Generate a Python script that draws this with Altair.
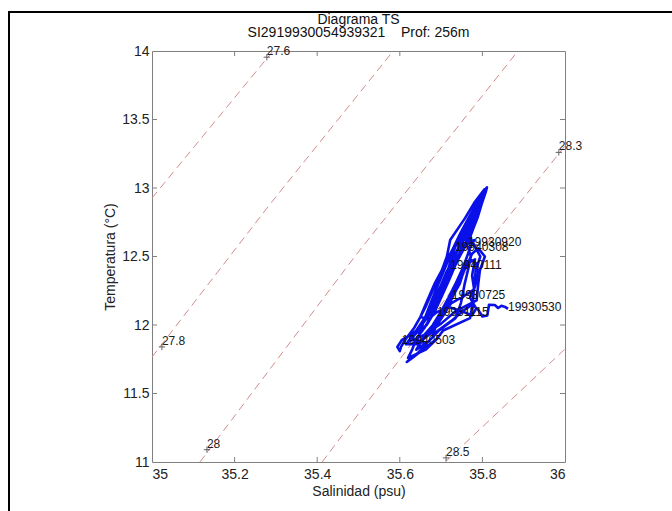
import altair as alt
import pandas as pd

# ---- isopycnal (sigma) lines: points ----
iso_level = ["27.6", "27.6",
             "27.8", "27.8", "27.8",
             "28", "28", "28",
             "28.3", "28.3", "28.3",
             "28.5", "28.5"]
iso_S = [35.000, 35.293,
         35.000, 35.286, 35.584,
         35.116, 35.492, 35.886,
         35.412, 35.818, 36.000,
         35.710, 36.000]
iso_T = [12.927, 14.000,
         11.766, 12.883, 14.000,
         11.000, 12.504, 14.000,
         11.000, 12.620, 13.307,
         11.000, 11.825]

# contour labels ("+" marker and value)
lab_text = ["27.6", "27.8", "28", "28.3", "28.5"]
lab_S = [35.278, 35.024, 35.133, 35.985, 35.712]
lab_T = [13.955, 11.840, 11.090, 13.260, 11.030]

# ---- TS trace (salinity, temperature) ----
ts_S = [35.862, 35.855, 35.846, 35.838, 35.830, 35.816, 35.812, 35.800, 35.790, 35.776,
        35.752, 35.725, 35.700, 35.680,
        35.695, 35.710, 35.726, 35.742, 35.760, 35.775, 35.790, 35.806, 35.794, 35.790, 35.786,
        35.760, 35.735, 35.700, 35.675, 35.655, 35.640,
        35.650, 35.662, 35.676, 35.692, 35.710, 35.726, 35.745, 35.768, 35.790, 35.806, 35.811,
        35.808, 35.798, 35.788, 35.776, 35.765, 35.752, 35.738,
        35.752, 35.772, 35.792, 35.805, 35.798, 35.780, 35.760, 35.740, 35.722,
        35.705, 35.690, 35.675, 35.662, 35.650, 35.668, 35.690,
        35.720, 35.750, 35.775, 35.785, 35.770, 35.782, 35.790, 35.785, 35.770,
        35.750, 35.735, 35.718, 35.700, 35.680, 35.660, 35.640, 35.620,
        35.640, 35.660, 35.680, 35.698, 35.712, 35.722, 35.740, 35.758, 35.772, 35.760,
        35.745, 35.728, 35.710, 35.692, 35.680,
        35.695, 35.710, 35.722, 35.734, 35.748, 35.762, 35.750, 35.732, 35.715,
        35.700, 35.685, 35.668, 35.648, 35.628, 35.605, 35.594, 35.600,
        35.603, 35.615, 35.635, 35.650, 35.664, 35.684, 35.702, 35.714, 35.722, 35.758, 35.782, 35.805,
        35.800, 35.790, 35.770, 35.795, 35.784, 35.780, 35.777, 35.770, 35.705, 35.690, 35.663, 35.620,
        35.630, 35.640, 35.660, 35.675, 35.690, 35.708, 35.725, 35.735, 35.745, 35.765, 35.790,
        35.775, 35.760, 35.772, 35.765, 35.757, 35.748, 35.735, 35.695, 35.670, 35.640,
        35.660, 35.690, 35.712, 35.728, 35.745, 35.758, 35.770, 35.780,
        35.750, 35.735, 35.718, 35.700, 35.685, 35.665, 35.640, 35.615,
        35.648, 35.668, 35.700, 35.725, 35.760, 35.780, 35.775, 35.782,
        35.760, 35.745, 35.730, 35.712, 35.690, 35.675, 35.650,
        35.625, 35.650, 35.665, 35.645, 35.625, 35.617, 35.635, 35.660, 35.690]
ts_T = [12.118, 12.132, 12.140, 12.124, 12.146, 12.148, 12.070, 12.062, 12.110, 12.150,
        12.100, 12.030, 11.975, 11.930,
        12.050, 12.150, 12.219, 12.320, 12.420, 12.520, 12.560, 12.500, 12.400, 12.300, 12.180,
        12.140, 12.100, 12.010, 11.960, 11.900, 11.860,
        11.960, 12.060, 12.170, 12.290, 12.420, 12.540, 12.660, 12.790, 12.910, 12.985, 13.005,
        12.970, 12.880, 12.780, 12.690, 12.606, 12.540, 12.460,
        12.600, 12.740, 12.880, 12.960, 12.950, 12.840, 12.720, 12.620, 12.520,
        12.420, 12.320, 12.220, 12.130, 12.060, 12.040, 12.095,
        12.130, 12.100, 12.070, 12.120, 12.200, 12.280, 12.380, 12.450, 12.480,
        12.400, 12.300, 12.200, 12.100, 12.000, 11.930, 11.900, 11.880,
        11.960, 12.050, 12.160, 12.280, 12.380, 12.438, 12.500, 12.570, 12.640, 12.600,
        12.520, 12.420, 12.300, 12.200, 12.100,
        12.200, 12.330, 12.460, 12.569, 12.650, 12.700, 12.620, 12.500, 12.380,
        12.270, 12.160, 12.060, 11.980, 11.930, 11.891, 11.840, 11.810,
        11.840, 11.900, 11.980, 12.060, 12.160, 12.300, 12.400, 12.500, 12.620, 12.780, 12.900, 12.990,
        12.920, 12.800, 12.640, 12.500, 12.400, 12.300, 12.160, 12.050, 11.960, 11.900, 11.820, 11.760,
        11.820, 11.900, 11.980, 12.060, 12.160, 12.300, 12.400, 12.500, 12.600, 12.720, 12.850,
        12.720, 12.620, 12.500, 12.400, 12.300, 12.160, 12.050, 11.960, 11.880, 11.820,
        11.920, 12.020, 12.140, 12.260, 12.360, 12.460, 12.560, 12.620,
        12.560, 12.440, 12.320, 12.200, 12.100, 12.000, 11.940, 11.860,
        11.860, 11.940, 12.060, 12.160, 12.220, 12.260, 12.360, 12.480,
        12.440, 12.300, 12.220, 12.100, 12.000, 11.940, 11.880,
        11.860, 11.880, 11.860, 11.800, 11.750, 11.730, 11.770, 11.830, 11.900]

# date labels
date_text = ["19930530", "19930725", "19930920", "19931115", "19940111", "19940308", "19940503"]
date_S = [35.862, 35.726, 35.765, 35.690, 35.722, 35.734, 35.605]
date_T = [12.131, 12.219, 12.606, 12.095, 12.438, 12.569, 11.891]

# titles
title_1 = "Diagrama TS"
title_2 = "SI2919930054939321\u00a0\u00a0\u00a0\u00a0Prof: 256m"

# axis ticks
x_ticks = [35, 35.2, 35.4, 35.6, 35.8, 36]
y_ticks = [11, 11.5, 12, 12.5, 13, 13.5, 14]
x_inner = x_ticks[1:-1]
y_inner = y_ticks[1:-1]

W, H = 413, 411
FONT = "Liberation Sans"
GRAY = "#808080"

iso_df = pd.DataFrame({"level": iso_level, "S": iso_S, "T": iso_T,
                       "order": list(range(len(iso_S)))})
lab_df = pd.DataFrame({"label": lab_text, "S": lab_S, "T": lab_T})
ts_df = pd.DataFrame({"S": ts_S, "T": ts_T, "order": list(range(len(ts_S)))})
date_df = pd.DataFrame({"label": date_text, "S": date_S, "T": date_T})
xt_df = pd.DataFrame({"v": x_inner})
yt_df = pd.DataFrame({"v": y_inner})
one = pd.DataFrame({"a": [0]})

xs = alt.Scale(domain=[35, 36], nice=False, zero=False)
ys = alt.Scale(domain=[11, 14], nice=False, zero=False)

x_enc = alt.X("S:Q", scale=xs, axis=alt.Axis(
    values=x_ticks, format="~g", title="Salinidad (psu)", ticks=False, domain=False,
    grid=False, labelPadding=5, titlePadding=3))
y_enc = alt.Y("T:Q", scale=ys, axis=alt.Axis(
    values=y_ticks, format="~g", title="Temperatura (°C)", ticks=False, domain=False,
    grid=False, labelPadding=3, titlePadding=4))

iso = alt.Chart(iso_df).mark_line(
    color="#d48c8c", strokeWidth=1, strokeDash=[8, 5], clip=True
).encode(x=x_enc, y=y_enc, detail="level:N", order="order:Q")

plus = alt.Chart(lab_df).mark_point(
    shape="M-1,0L1,0M0,-1L0,1", size=40, filled=False, color="#222222", strokeWidth=1
).encode(x=alt.X("S:Q", scale=xs), y=alt.Y("T:Q", scale=ys))

lab = alt.Chart(lab_df).mark_text(
    align="left", baseline="middle", dx=0, dy=-6, fontSize=12, font=FONT, color="#222222"
).encode(x=alt.X("S:Q", scale=xs), y=alt.Y("T:Q", scale=ys), text="label:N")

trace = alt.Chart(ts_df).mark_line(
    color="#0a10e8", strokeWidth=2.6, strokeJoin="round"
).encode(x=alt.X("S:Q", scale=xs), y=alt.Y("T:Q", scale=ys), order="order:Q")

dates = alt.Chart(date_df).mark_text(
    align="left", baseline="middle", fontSize=12, font=FONT, color="#111111"
).encode(x=alt.X("S:Q", scale=xs), y=alt.Y("T:Q", scale=ys), text="label:N")

tb = alt.Chart(xt_df).mark_rule(color=GRAY).encode(
    x=alt.X("v:Q", scale=xs), y=alt.value(H), y2=alt.value(H - 5))
tt = alt.Chart(xt_df).mark_rule(color=GRAY).encode(
    x=alt.X("v:Q", scale=xs), y=alt.value(0), y2=alt.value(5))
tl = alt.Chart(yt_df).mark_rule(color=GRAY).encode(
    y=alt.Y("v:Q", scale=ys), x=alt.value(0), x2=alt.value(5))
tr = alt.Chart(yt_df).mark_rule(color=GRAY).encode(
    y=alt.Y("v:Q", scale=ys), x=alt.value(W), x2=alt.value(W - 5))

t1 = alt.Chart(one).mark_text(
    text=title_1, align="center", baseline="middle", fontSize=14, font=FONT, color="#111111"
).encode(x=alt.value(W / 2), y=alt.value(-31))
t2 = alt.Chart(one).mark_text(
    text=title_2, align="center", baseline="middle", fontSize=14, font=FONT, color="#111111"
).encode(x=alt.value(W / 2), y=alt.value(-18))

frame_top = alt.Chart(one).mark_rule(color="black", strokeWidth=2).encode(
    x=alt.value(-143), x2=alt.value(530), y=alt.value(-39))
frame_left = alt.Chart(one).mark_rule(color="black", strokeWidth=2).encode(
    x=alt.value(-143), y=alt.value(-40), y2=alt.value(470))

chart = alt.layer(
    iso, plus, lab, trace, dates, tb, tt, tl, tr, t1, t2, frame_top, frame_left
).properties(
    width=W, height=H,
    background="white",
    autosize=alt.AutoSizeParams(type="none"),
    padding={"left": 152, "top": 51, "right": 107, "bottom": 49},
).configure_view(
    stroke=GRAY, strokeWidth=1
).configure_axis(
    labelFont=FONT, titleFont=FONT, labelFontSize=14, titleFontSize=14,
    labelColor="#222222", titleColor="#222222", titleFontWeight="normal"
)

chart.save("out.html", embed_options={"renderer": "svg", "actions": False})
